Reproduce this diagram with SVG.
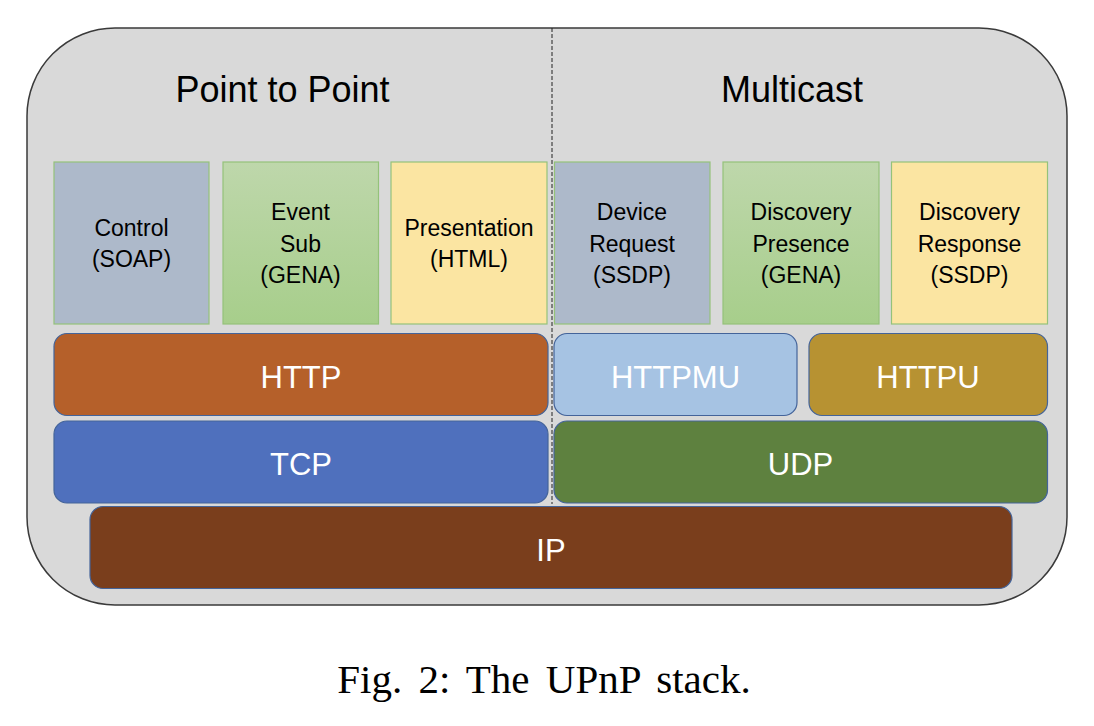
<svg xmlns="http://www.w3.org/2000/svg" width="1094" height="726" viewBox="0 0 1094 726">
<defs>
<linearGradient id="gGreen" x1="0" y1="0" x2="0" y2="1">
<stop offset="0" stop-color="#bed7ab"/>
<stop offset="1" stop-color="#a7ce8b"/>
</linearGradient>
</defs>
<style>
.title{font-family:"Liberation Sans",Arial,sans-serif;font-size:36px;fill:#000;text-anchor:middle}
.lbl{font-family:"Liberation Sans",Arial,sans-serif;font-size:23px;fill:#000;text-anchor:middle}
.layer{font-family:"Liberation Sans",Arial,sans-serif;font-size:31px;fill:#fff;text-anchor:middle}
.cap{font-family:"Liberation Serif","Times New Roman",serif;font-size:41px;fill:#000;text-anchor:middle;word-spacing:6px}
.app{stroke:#94c27a;stroke-width:1.2}
.lay{stroke:#44649a;stroke-width:1.2}
</style>
<rect id="frame" x="27" y="28" width="1040" height="577" rx="88" ry="88" fill="#d9d9d9" stroke="#3a3a3a" stroke-width="1.5"/>
<g id="connectors">
<line x1="552" y1="28" x2="552" y2="504" stroke="#222" stroke-width="1" stroke-dasharray="4,2"/>
</g>
<text class="title" x="282.5" y="102">Point to Point</text>
<text class="title" x="792" y="102">Multicast</text>
<g id="control">
<rect class="app" x="54" y="162" width="155" height="162" fill="#adb9ca"/>
<text class="lbl" x="131.5" y="236">Control</text>
<text class="lbl" x="131.5" y="267">(SOAP)</text>
</g>
<g id="event">
<rect class="app" x="223" y="162" width="155.5" height="162" fill="url(#gGreen)"/>
<text class="lbl" x="300.5" y="220">Event</text>
<text class="lbl" x="300.5" y="251.5">Sub</text>
<text class="lbl" x="300.5" y="283">(GENA)</text>
</g>
<g id="presentation">
<rect class="app" x="391" y="162" width="156" height="162" fill="#fbe5a2"/>
<text class="lbl" x="469" y="236">Presentation</text>
<text class="lbl" x="469" y="267">(HTML)</text>
</g>
<g id="device">
<rect class="app" x="554.5" y="162" width="155.5" height="162" fill="#adb9ca"/>
<text class="lbl" x="632" y="220">Device</text>
<text class="lbl" x="632" y="251.5">Request</text>
<text class="lbl" x="632" y="283">(SSDP)</text>
</g>
<g id="presence">
<rect class="app" x="723" y="162" width="156" height="162" fill="url(#gGreen)"/>
<text class="lbl" x="801" y="220">Discovery</text>
<text class="lbl" x="801" y="251.5">Presence</text>
<text class="lbl" x="801" y="283">(GENA)</text>
</g>
<g id="response">
<rect class="app" x="891.5" y="162" width="156" height="162" fill="#fbe5a2"/>
<text class="lbl" x="969.5" y="220">Discovery</text>
<text class="lbl" x="969.5" y="251.5">Response</text>
<text class="lbl" x="969.5" y="283">(SSDP)</text>
</g>
<g id="http">
<rect class="lay" x="54" y="333.5" width="494" height="82" rx="13" fill="#b5602a"/>
<text class="layer" x="301" y="388">HTTP</text>
</g>
<g id="httpmu">
<rect class="lay" x="554" y="333.5" width="243" height="82" rx="13" fill="#a6c3e3"/>
<text class="layer" x="675.5" y="388">HTTPMU</text>
</g>
<g id="httpu">
<rect class="lay" x="809" y="333.5" width="238.5" height="82" rx="13" fill="#b79232"/>
<text class="layer" x="928" y="388">HTTPU</text>
</g>
<g id="tcp">
<rect class="lay" x="54" y="421" width="494" height="82" rx="13" fill="#4f70bd"/>
<text class="layer" x="301" y="475">TCP</text>
</g>
<g id="udp">
<rect class="lay" x="554" y="421" width="493.5" height="82" rx="13" fill="#5e813f"/>
<text class="layer" x="800.5" y="475">UDP</text>
</g>
<g id="ip">
<rect class="lay" x="90" y="506.5" width="922" height="82" rx="13" fill="#7a3e1c"/>
<text class="layer" x="551" y="561">IP</text>
</g>
<text class="cap" x="544" y="693">Fig. 2: The UPnP stack.</text>
</svg>
